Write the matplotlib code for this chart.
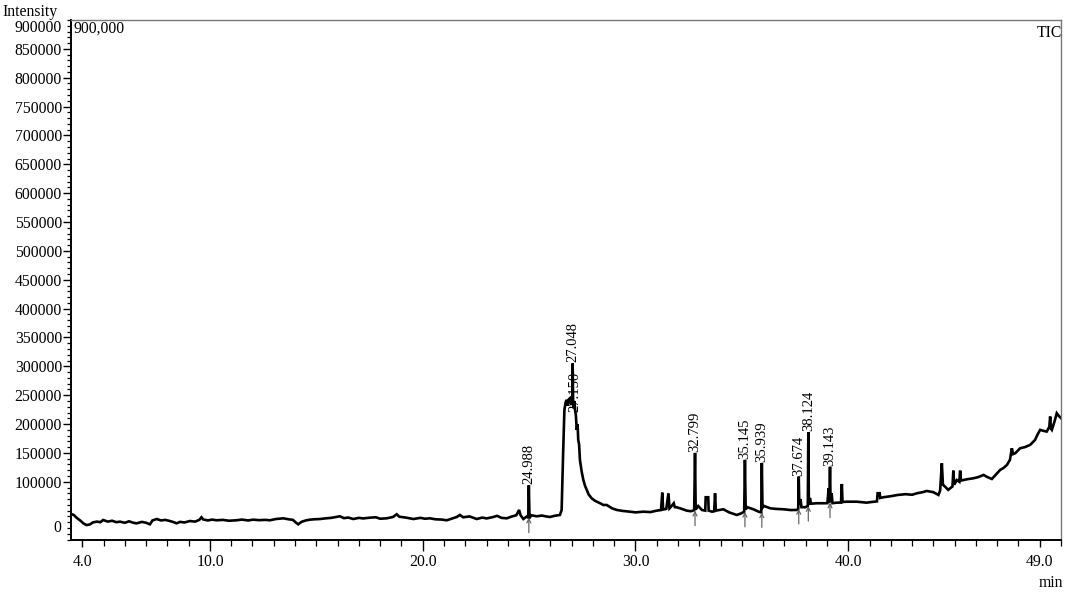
import matplotlib
matplotlib.use("Agg")
import matplotlib.pyplot as plt
from matplotlib.ticker import MultipleLocator, FixedLocator
from matplotlib.transforms import ScaledTranslation, blended_transform_factory

plt.rcParams['font.family'] = ['Liberation Serif', 'DejaVu Serif']

# ---- chromatogram trace (time in min, intensity) ----
trace_t = [3.47, 3.6, 3.73, 3.9, 4.05, 4.2, 4.35, 4.51, 4.7, 4.85, 4.98, 5.2, 5.4, 5.6, 5.77,
           6.0, 6.2, 6.4, 6.55, 6.8, 7.0, 7.18, 7.3, 7.5, 7.7, 7.9, 8.12, 8.3, 8.43, 8.6, 8.8,
           9.06, 9.3, 9.5, 9.6, 9.68, 9.9, 10.1, 10.31, 10.6, 10.9, 11.25, 11.5, 11.8, 12.03,
           12.3, 12.6, 12.82, 13.1, 13.45, 13.7, 13.9, 14.05, 14.15, 14.3, 14.5, 14.7, 14.9,
           15.17, 15.4, 15.7, 16.11, 16.3, 16.5, 16.74, 17.0, 17.2, 17.52, 17.8, 18.0, 18.31,
           18.6, 18.78, 18.9, 19.2, 19.56, 19.9, 20.1, 20.34, 20.6, 20.9, 21.13, 21.4, 21.6,
           21.75, 21.9, 22.2, 22.54, 22.8, 23.0, 23.32, 23.5, 23.7, 23.95, 24.2, 24.4, 24.53,
           24.6, 24.73, 24.9, 24.96, 24.988, 25.02, 25.1, 25.36, 25.6, 25.8, 25.98, 26.2, 26.45,
           26.53, 26.6, 26.66, 26.72, 26.77, 26.82, 26.87, 26.92, 26.97, 27.0, 27.03, 27.048,
           27.07, 27.1, 27.13, 27.16, 27.2, 27.24, 27.28, 27.31, 27.35, 27.39, 27.47, 27.55,
           27.63, 27.71, 27.8, 27.94, 28.1, 28.34, 28.49, 28.65, 28.9, 29.12, 29.4, 29.74,
           30.0, 30.37, 30.7, 31.0, 31.2, 31.26, 31.3, 31.45, 31.55, 31.6, 31.7, 31.8, 31.85,
           31.94, 32.1, 32.41, 32.6, 32.76, 32.799, 32.83, 32.95, 33.12, 33.28, 33.3, 33.42,
           33.44, 33.6, 33.7, 33.74, 33.78, 34.13, 34.4, 34.76, 34.95, 35.11, 35.145, 35.18,
           35.25, 35.54, 35.8, 35.91, 35.939, 35.97, 36.05, 36.33, 36.6, 36.95, 37.3, 37.58,
           37.65, 37.674, 37.7, 37.76, 37.8, 37.97, 38.1, 38.124, 38.15, 38.2, 38.25, 38.52,
           38.83, 39.02, 39.08, 39.11, 39.143, 39.17, 39.22, 39.26, 39.46, 39.66, 39.7, 39.73,
           39.93, 40.09, 40.4, 40.87, 41.03, 41.35, 41.38, 41.48, 41.5, 41.65, 42.0, 42.33,
           42.7, 43.0, 43.23, 43.5, 43.69, 44.0, 44.24, 44.32, 44.40, 44.45, 44.55, 44.7,
           44.79, 44.9, 44.94, 44.98, 45.1, 45.22, 45.26, 45.3, 45.41, 45.6, 45.89, 46.1,
           46.36, 46.55, 46.75, 46.95, 47.14, 47.3, 47.46, 47.6, 47.69, 47.75, 47.85, 48.0,
           48.08, 48.3, 48.55, 48.78, 48.9, 49.02, 49.2, 49.33, 49.45, 49.49, 49.53, 49.57,
           49.7, 49.8, 49.9, 50.0]
trace_i = [44000, 42500, 37800, 33000, 28000, 25000, 26000, 29800, 31000, 30000, 33800, 31000,
           32500, 30000, 30900, 29000, 31500, 29000, 28000, 30500, 29000, 26300, 33000, 35500,
           33000, 34000, 32000, 30000, 28000, 30500, 29500, 32000, 31000, 34000, 38500, 34800,
           33000, 34500, 33300, 34000, 32500, 33300, 34500, 33000, 34400, 33500, 34000, 33300,
           35500, 36700, 35000, 34000, 29000, 26300, 30500, 33000, 34400, 35000, 35500, 36500,
           37500, 40200, 37000, 38000, 35500, 37500, 36500, 37800, 38500, 36000, 36700, 39000,
           43700, 39500, 38000, 35500, 37500, 36000, 36700, 35000, 34500, 33300, 36500, 39000,
           42500, 38500, 40000, 35500, 38000, 36500, 39000, 41000, 37500, 36700, 40000, 42000,
           51200, 42000, 35500, 40000, 38000, 94000, 37000, 42000, 40200, 41500, 40000, 39000,
           41000, 42500, 51200, 150000, 224500, 238000, 241900, 232000, 243000, 244800, 236000,
           233200, 240000, 305000, 238000, 228000, 240000, 224500, 215000, 189900, 200000,
           172500, 165000, 137900, 118000, 103200, 93000, 85800, 78000, 71400, 67000, 62800,
           59800, 59800, 54000, 51200, 49500, 48200, 47000, 48200, 47500, 50000, 51000, 81200,
           52000, 53000, 80100, 54000, 58000, 62800, 56000, 55800, 54000, 50000, 49000, 50500,
           150000, 52000, 58000, 51200, 50000, 73200, 73200, 50000, 48200, 49000, 80100, 50000,
           52400, 47000, 42500, 45000, 48000, 138000, 52000, 56000, 52400, 48000, 47000, 132700,
           55000, 58000, 54100, 53000, 52400, 51000, 51200, 53000, 109000, 60000, 70000, 56000,
           55800, 58000, 186000, 60000, 72000, 62000, 62800, 62800, 63000, 88800, 64000, 126000,
           66000, 80000, 63000, 63800, 64000, 96200, 65000, 65500, 65500, 65500, 63800, 64700,
           66000, 80100, 80100, 72000, 73200, 75000, 77200, 78500, 77500, 80100, 82000, 84100,
           82000, 77200, 85000, 132100, 95000, 91600, 86000, 88800, 92000, 119300, 95000, 103000,
           100000, 119300, 102000, 103000, 104500, 106100, 108000, 111800, 108000, 104900,
           113000, 120500, 124000, 129200, 138000, 158100, 148000, 149500, 155000, 158100,
           160000, 163900, 172500, 182000, 189900, 188000, 187000, 195000, 213000, 192000,
           189900, 205000, 218800, 214000, 210200]

# ---- labelled peaks ----
peak_labels = ["24.988", "27.048", "27.150", "32.799", "35.145", "35.939", "37.674", "38.124", "39.143"]
peak_times = [24.988, 27.048, 27.150, 32.799, 35.145, 35.939, 37.674, 38.124, 39.143]
peak_tops = [94000, 305000, 220000, 150000, 138000, 132700, 109000, 186000, 126000]
marker_times = [24.988, 32.799, 35.145, 35.939, 37.674, 38.124, 39.143]
marker_base = [38000, 50000, 48000, 47000, 53000, 58000, 64000]

y_major = [100000, 150000, 200000, 250000, 300000, 350000, 400000, 450000, 500000,
           550000, 600000, 650000, 700000, 750000, 800000, 850000]
x_label_pos = [4.0, 10.0, 20.0, 30.0, 40.0, 49.0]
x_label_txt = ["4.0", "10.0", "20.0", "30.0", "40.0", "49.0"]

W, H = 1065, 593
PX = 0.72  # points per pixel at 100 dpi
fig = plt.figure(figsize=(W / 100, H / 100), dpi=100)
ax = fig.add_axes([71 / W, 1 - 539.5 / H, (1061 - 71) / W, (539.5 - 20) / H])

ax.plot(trace_t, trace_i, color='black', lw=1.9, solid_joinstyle='miter')

ax.set_xlim(3.47, 50.0)
ax.set_ylim(0, 900000)

# spines
for s in ['left', 'bottom']:
    ax.spines[s].set_color('black')
    ax.spines[s].set_linewidth(1.4)
for s in ['top', 'right']:
    ax.spines[s].set_color('#777777')
    ax.spines[s].set_linewidth(1.0)

fs = 11.3
# y ticks
ax.yaxis.set_major_locator(FixedLocator(y_major))
ax.set_yticklabels([str(v) for v in y_major])
ax.yaxis.set_minor_locator(MultipleLocator(10000))
ax.tick_params(axis='y', which='major', length=8 * PX, width=1.0, pad=1 * PX, labelsize=fs, direction='out')
ax.tick_params(axis='y', which='minor', length=4 * PX, width=0.9, direction='out')

# x ticks
ax.xaxis.set_major_locator(FixedLocator(x_label_pos))
ax.set_xticklabels(x_label_txt)
ax.xaxis.set_minor_locator(MultipleLocator(1.0))
ax.tick_params(axis='x', which='major', length=11 * PX, width=1.0, pad=3 * PX, labelsize=fs, direction='out')
ax.tick_params(axis='x', which='minor', length=6 * PX, width=0.9, direction='out')
for tk, pos in zip(ax.xaxis.get_major_ticks(), x_label_pos):
    if pos in (4.0, 49.0):
        tk.tick1line.set_markersize(7 * PX)

# special y labels (0 and 900000) drawn shifted as in the reference
ytrans = blended_transform_factory(ax.transAxes, ax.transData)
ax.text(-0.0095, 0, "0", transform=ytrans + ScaledTranslation(0, 11 / 100, fig.dpi_scale_trans),
        ha='right', va='center', fontsize=fs)
ax.text(-0.0095, 900000, "900000", transform=ytrans + ScaledTranslation(0, -8 / 100, fig.dpi_scale_trans),
        ha='right', va='center', fontsize=fs)

# peak labels
for lab, t, top in zip(peak_labels, peak_times, peak_tops):
    ax.text(t, top, lab, rotation=90, ha='center', va='bottom', fontsize=10.5,
            transform=ax.transData + ScaledTranslation(0, 1 / 100, fig.dpi_scale_trans))

# peak markers (small arrows below peaks)
for t, b in zip(marker_times, marker_base):
    ax.annotate('', xy=(t, b), xytext=(t, b - 26000),
                arrowprops=dict(arrowstyle='->', color='#666666', lw=0.9,
                                shrinkA=0, shrinkB=0, mutation_scale=7))

# texts
fig.text(2 / W, 1 - 12 / H, "Intensity", ha='left', va='center', fontsize=fs)
fig.text(74 / W, 1 - 29 / H, "900,000", ha='left', va='center', fontsize=fs)
fig.text(1062 / W, 1 - 33 / H, "TIC", ha='right', va='center', fontsize=fs)
fig.text(1063 / W, 1 - 583 / H, "min", ha='right', va='center', fontsize=fs)

fig.savefig("out.png", dpi=100)
